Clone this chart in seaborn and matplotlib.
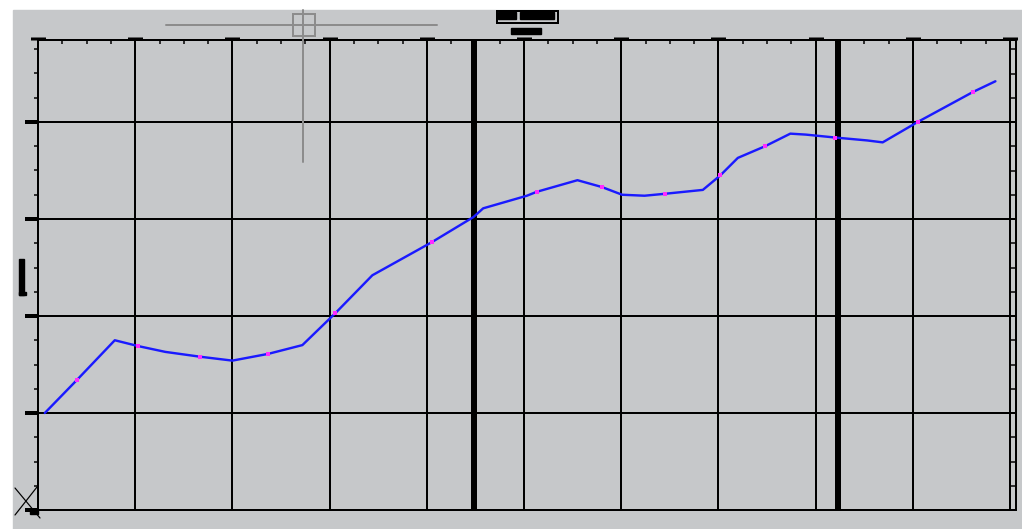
import numpy as np
import pandas as pd
import matplotlib
matplotlib.use("Agg")
import matplotlib.pyplot as plt
from matplotlib.patches import Rectangle
import seaborn as sns

# dados do perfil (unidades de grade)
x_vals = [0.07, 0.40, 0.79, 1.03, 1.31, 1.67, 2.00, 2.37, 2.72, 3.06, 3.44,
          4.05, 4.48, 4.58, 5.03, 5.13, 5.55, 5.80, 6.01, 6.24, 6.45, 6.84,
          7.02, 7.20, 7.48, 7.74, 7.90, 8.20, 8.53, 8.69, 9.05, 9.62, 9.85]
y_vals = [1.00, 1.34, 1.75, 1.69, 1.63, 1.58, 1.54, 1.61, 1.70, 2.03, 2.42,
          2.76, 3.02, 3.11, 3.24, 3.28, 3.40, 3.33, 3.25, 3.24, 3.26, 3.30,
          3.45, 3.63, 3.75, 3.88, 3.87, 3.84, 3.81, 3.79, 4.00, 4.31, 4.42]
# vertices marcados em magenta
marked = [1, 3, 5, 7, 9, 11, 15, 17, 20, 22, 24, 27, 30, 31]
# linhas verticais grossas (divisas)
thick_x = [4.49, 8.23]
x_grid = list(range(11))
y_grid = [0, 1, 2, 3, 4]

df = pd.DataFrame({"x": x_vals, "y": y_vals})
df_marks = df.iloc[marked]

sns.set_theme(style="ticks")
plt.rcParams["font.family"] = ["DejaVu Sans"]

W, H = 1022, 529
PT = 0.72  # pontos por pixel a 100 dpi
fig = plt.figure(figsize=(W / 100, H / 100), dpi=100)
fig.patch.set_facecolor("white")
bg = "#c6c8ca"
fig.add_artist(Rectangle((13 / W, 0), 1 - 13 / W, (H - 10) / H,
                         transform=fig.transFigure, color=bg, zorder=-5))

ax = fig.add_axes([38 / W, (H - 510) / H, (1016 - 38) / W, 470 / H])
ax.set_facecolor(bg)
ax.set_xlim(0, 978 / 97.2)
ax.set_ylim(0, 470 / 97)

ax.set_xticks(x_grid)
ax.set_yticks(y_grid)
ax.set_xticks(np.arange(0, 10.01, 0.25), minor=True)
ax.set_yticks(np.arange(0, 4.85, 0.25), minor=True)
ax.set_xticklabels([])
ax.set_yticklabels([])
ax.grid(True, which="major", color="black", lw=2 * PT)
ax.set_axisbelow(True)

for s in ax.spines.values():
    s.set_color("black")
    s.set_linewidth(2 * PT)

ax.tick_params(axis="x", which="major", bottom=False, top=True,
               direction="out", length=3 * PT, width=15 * PT, color="black")
ax.tick_params(axis="x", which="minor", bottom=False, top=True,
               direction="in", length=4 * PT, width=1.5 * PT, color="black")
ax.tick_params(axis="y", which="major", left=True, right=False,
               direction="out", length=13 * PT, width=4 * PT, color="black")
ax.tick_params(axis="y", which="minor", left=True, right=False,
               direction="out", length=4 * PT, width=1.5 * PT, color="black")

for xv in thick_x:
    ax.axvline(xv, color="black", lw=6 * PT, zorder=1.5)

sns.lineplot(data=df, x="x", y="y", sort=False, color="#1a1aff",
             lw=2.4 * PT, ax=ax, zorder=3)
sns.scatterplot(data=df_marks, x="x", y="y", color="#ff2bff", marker="s",
                s=12, linewidth=0, ax=ax, zorder=4)
ax.set_xlabel("")
ax.set_ylabel("")

# camada de enfeites da tela do CAD (cursor, icone UCS, rotulo)
ov = fig.add_axes([0, 0, 1, 1], zorder=5)
ov.set_xlim(0, W)
ov.set_ylim(H, 0)
ov.axis("off")
ov.patch.set_alpha(0)
gray = "#8c8c8c"
ov.plot([166, 437], [25, 25], color=gray, lw=2 * PT)
ov.plot([303, 303], [10, 162], color=gray, lw=2 * PT)
ov.add_patch(Rectangle((293, 14), 22, 22, fill=False, ec=gray, lw=2 * PT))
ov.add_patch(Rectangle((497, 11), 61, 12, fill=False, ec="black", lw=2 * PT))
ov.add_patch(Rectangle((498, 12), 18, 7, color="black"))
ov.add_patch(Rectangle((520, 12), 34, 7, color="black"))
ov.add_patch(Rectangle((511, 28), 30, 6, color="black"))
ov.add_patch(Rectangle((19, 259), 5, 36, color="black"))
ov.add_patch(Rectangle((19, 292), 7, 3, color="black"))
ov.plot([1010, 1010], [40, 510], color="black", lw=2 * PT)
for yy in np.arange(40 + 97 * 0.25 - 15, 510, 24.25):
    ov.plot([1010, 1016], [yy, yy], color="black", lw=1.5 * PT)
ov.plot([15, 40], [488, 518], color="black", lw=1.2 * PT)
ov.plot([15, 37], [515, 487], color="black", lw=1.2 * PT)
ov.add_patch(Rectangle((30, 509), 8, 5, color="black"))

plt.savefig("out.png", dpi=100)
